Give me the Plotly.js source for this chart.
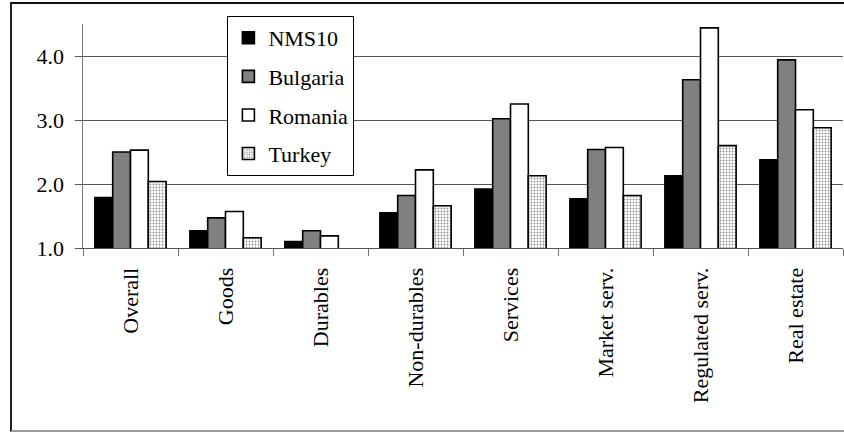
<!DOCTYPE html>
<html>
<head>
<meta charset="utf-8">
<script src="https://cdn.plot.ly/plotly-3.0.1.min.js"></script>
<style>
  html, body { margin: 0; padding: 0; background: #fff; }
  #wrap { position: relative; width: 844px; height: 434px; overflow: hidden; }
  #chart { position: absolute; left: 0; top: 0; width: 844px; height: 434px; }
  #frame {
    position: absolute; left: 10px; top: 2px; width: 850px; height: 430px;
    border-left: 2px solid #222; border-top: 2px solid #111; border-bottom: 2px solid #999;
    box-sizing: border-box; pointer-events: none;
  }
</style>
</head>
<body>
<div id="wrap">
  <div id="chart"></div>
  <div id="frame"></div>
</div>
<script>
// Price level ratios by consumption category
const categories = ["Overall", "Goods", "Durables", "Non-durables", "Services",
                    "Market serv.", "Regulated serv.", "Real estate"];

const nms10    = [1.79, 1.27, 1.10, 1.55, 1.92, 1.77, 2.13, 2.38];
const bulgaria = [2.50, 1.47, 1.27, 1.82, 3.02, 2.54, 3.63, 3.94];
const romania  = [2.53, 1.57, 1.19, 2.22, 3.25, 2.57, 4.44, 3.16];
const turkey   = [2.04, 1.16, null, 1.66, 2.13, 1.82, 2.60, 2.88];

const yTicks = [1, 2, 3, 4];
const yTickText = ["1.0", "2.0", "3.0", "4.0"];

const FONT = "Liberation Serif";
const edge = { color: "#000", width: 1.6 };

function series(name, values, marker) {
  return {
    type: "bar", name: name, x: categories, y: values,
    legendgroup: name,
    marker: Object.assign({ line: edge }, marker)
  };
}

const traces = [
  series("NMS10", nms10, { color: "#000000" }),
  series("Bulgaria", bulgaria, { color: "#808080" }),
  series("Romania", romania, { color: "#ffffff" }),
  series("Turkey", turkey, {
    color: "#ffffff",
    pattern: { shape: ".", fgcolor: "#909090", bgcolor: "#ffffff", size: 3, solidity: 0.3 }
  })
];

const layout = {
  width: 844, height: 434,
  margin: { l: 83, r: 1, t: 24, b: 186 },
  paper_bgcolor: "#ffffff", plot_bgcolor: "#ffffff",
  font: { family: FONT, size: 22, color: "#000" },
  barmode: "group", bargap: 0.25, bargroupgap: 0,
  showlegend: true,
  legend: {
    x: 0.190, xanchor: "left", y: 1.036, yanchor: "top",
    bgcolor: "#ffffff", bordercolor: "#000", borderwidth: 1,
    font: { family: FONT, size: 22, color: "#000", weight: "normal" },
    traceorder: "grouped", tracegroupgap: 7,
    itemclick: false
  },
  xaxis: {
    type: "category",
    tickson: "boundaries",
    ticks: "outside", ticklen: 7, tickwidth: 1, tickcolor: "#777",
    tickangle: -90,
    ticklabelstandoff: 10,
    showgrid: false,
    showline: true, linecolor: "#555", linewidth: 1,
    tickfont: { family: FONT, size: 22, color: "#000" },
    fixedrange: true
  },
  yaxis: {
    range: [1, 4.5],
    tickvals: yTicks, ticktext: yTickText,
    ticks: "outside", ticklen: 7, tickwidth: 1, tickcolor: "#555",
    ticklabelstandoff: 6,
    showgrid: true, gridcolor: "#555", gridwidth: 1,
    showline: true, linecolor: "#777", linewidth: 1.5,
    zeroline: false,
    tickfont: { family: FONT, size: 22, color: "#000", weight: "normal" },
    fixedrange: true
  }
};

Plotly.newPlot("chart", traces, layout, { displayModeBar: false, staticPlot: true });
</script>
</body>
</html>
